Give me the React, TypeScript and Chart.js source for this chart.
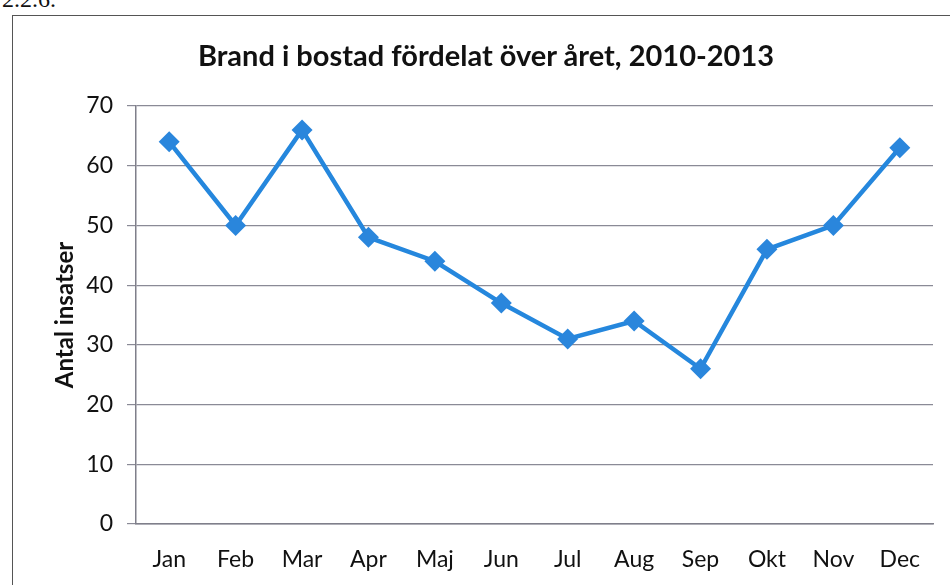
import React, { useEffect, useRef } from "react";
import { Chart, registerables } from "chart.js";

Chart.register(...registerables);

const months = ["Jan", "Feb", "Mar", "Apr", "Maj", "Jun", "Jul", "Aug", "Sep", "Okt", "Nov", "Dec"];
const insatser = [64, 50, 66, 48, 44, 37, 31, 34, 26, 46, 50, 63];
const chartTitle = "Brand i bostad fördelat över året, 2010-2013";
const yAxisTitle = "Antal insatser";
const sectionLabel = "2.2.6.";

const FONT = "Lato, 'Open Sans', 'DejaVu Sans', sans-serif";

export default function App() {
  const ref = useRef<HTMLCanvasElement | null>(null);

  useEffect(() => {
    if (!ref.current) return;
    const chart = new Chart(ref.current, {
      type: "line",
      data: {
        labels: months,
        datasets: [
          {
            data: insatser,
            borderColor: "#2587dd",
            backgroundColor: "#2587dd",
            borderWidth: 4.5,
            pointStyle: "rectRot",
            pointRadius: 10.5,
            pointBorderWidth: 0,
            pointBackgroundColor: "#2a86dc",
            tension: 0,
          },
        ],
      },
      options: {
        responsive: false,
        animation: false,
        layout: { padding: { top: 106, right: 17, left: 0, bottom: 0 } },
        plugins: {
          legend: { display: false },
          tooltip: { enabled: false },
          title: { display: false },
        },
        scales: {
          x: {
            offset: true,
            grid: { display: false, drawTicks: false },
            border: { display: true, color: "#7f7f8a", width: 1.5 },
            ticks: {
              color: "#111",
              font: { family: FONT, size: 23 },
              padding: 22,
              maxRotation: 0,
            },
            afterFit: (s: any) => {
              s.height = 61;
            },
          },
          y: {
            min: 0,
            max: 70,
            ticks: {
              stepSize: 10,
              color: "#111",
              font: { family: FONT, size: 23 },
              padding: 14,
            },
            grid: { color: "#8a8a96", lineWidth: 1.2, tickLength: 9 },
            border: { display: true, color: "#7f7f8a", width: 1.5 },
            title: {
              display: true,
              text: yAxisTitle,
              color: "#111",
              font: { family: FONT, size: 24, weight: "bold" },
              padding: { top: 51, bottom: 12 },
            },
            afterFit: (s: any) => {
              s.width = 136;
            },
          },
        },
      },
    });
    return () => chart.destroy();
  }, []);

  return (
    <div style={{ position: "absolute", left: 0, top: 0, width: 950, height: 585, overflow: "hidden", background: "#fff" }}>
      <div
        style={{
          position: "absolute",
          left: 2,
          top: -14,
          fontFamily: "'Liberation Serif', 'DejaVu Serif', serif",
          fontSize: 24,
          color: "#111",
        }}
      >
        {sectionLabel}
      </div>
      <div
        style={{
          position: "absolute",
          left: 12,
          top: 15,
          width: 960,
          height: 600,
          border: "1.5px solid #555",
          boxSizing: "border-box",
        }}
      />
      <canvas ref={ref} width={950} height={585} style={{ position: "absolute", left: 0, top: 0 }} />
      <div
        style={{
          position: "absolute",
          left: 186,
          width: 600,
          top: 37,
          textAlign: "center",
          fontFamily: FONT,
          fontWeight: "bold",
          fontSize: 29,
          lineHeight: "36px",
          color: "#111",
          whiteSpace: "nowrap",
        }}
      >
        {chartTitle}
      </div>
    </div>
  );
}
